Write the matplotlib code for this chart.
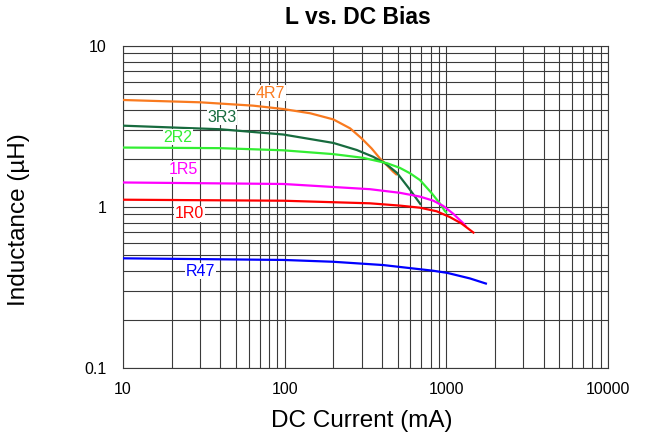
import matplotlib
matplotlib.use("Agg")
import matplotlib.pyplot as plt
from matplotlib.ticker import FixedLocator, LogLocator, NullFormatter

plt.rcParams['font.family'] = ['Liberation Sans', 'DejaVu Sans']

# Data (DC current in mA, inductance in uH)
x_4r7 = [10, 30, 64, 98, 144, 200, 254, 299, 345, 389, 428, 468, 495]
l_4r7 = [4.62, 4.47, 4.26, 4.06, 3.82, 3.50, 3.08, 2.67, 2.31, 2.00, 1.82, 1.66, 1.58]

x_3r3 = [10, 40, 98, 200, 279, 353, 418, 495, 596, 697]
l_3r3 = [3.20, 3.04, 2.82, 2.50, 2.26, 2.05, 1.87, 1.63, 1.28, 1.03]

x_2r2 = [10, 40, 98, 200, 306, 430, 516, 596, 687, 811, 914, 982, 1010]
l_2r2 = [2.34, 2.32, 2.25, 2.13, 2.02, 1.87, 1.75, 1.62, 1.47, 1.22, 1.05, 0.94, 0.92]

x_1r5 = [10, 98, 337, 516, 687, 830, 957, 1100, 1260, 1325]
l_1r5 = [1.42, 1.39, 1.29, 1.225, 1.16, 1.095, 1.015, 0.91, 0.80, 0.755]

x_1r0 = [10, 98, 337, 516, 687, 873, 1054, 1240, 1490]
l_1r0 = [1.11, 1.094, 1.054, 1.02, 0.99, 0.94, 0.865, 0.79, 0.687]

x_r47 = [10, 98, 199, 406, 827, 1010, 1400, 1783]
l_r47 = [0.48, 0.469, 0.457, 0.436, 0.402, 0.39, 0.36, 0.333]

series = [
    ("4R7", x_4r7, l_4r7, "#F97A1F", (82, 5.1)),
    ("3R3", x_3r3, l_3r3, "#176B3E", (41, 3.62)),
    ("2R2", x_2r2, l_2r2, "#33EE33", (21.9, 2.72)),
    ("1R5", x_1r5, l_1r5, "#FF00FF", (23.5, 1.72)),
    ("1R0", x_1r0, l_1r0, "#FF0000", (25.9, 0.905)),
    ("R47", x_r47, l_r47, "#0000FF", (30, 0.40)),
]

x_ticks = [10, 100, 1000, 10000]
x_ticklabels = ["10", "100", "1000", "10000"]
y_ticks = [0.1, 1, 10]
y_ticklabels = ["0.1", "1", "10"]

fig = plt.figure(figsize=(6.45, 4.34), dpi=100)
ax = fig.add_axes([123/645, 1-368/434, (608-123)/645, (368-46)/434])
ax.set_xscale("log")
ax.set_yscale("log")
ax.set_xlim(10, 10000)
ax.set_ylim(0.1, 10)

grid_color = "#3a3a3a"
ax.xaxis.set_major_locator(FixedLocator(x_ticks))
ax.yaxis.set_major_locator(FixedLocator(y_ticks))
ax.xaxis.set_minor_locator(LogLocator(base=10, subs=range(2, 10)))
ax.yaxis.set_minor_locator(LogLocator(base=10, subs=range(2, 10)))
ax.xaxis.set_minor_formatter(NullFormatter())
ax.yaxis.set_minor_formatter(NullFormatter())
ax.set_xticklabels(x_ticklabels)
ax.set_yticklabels(y_ticklabels)
ax.grid(True, which="both", color=grid_color, linewidth=0.8)
ax.set_axisbelow(True)
ax.tick_params(which="both", length=0)
ax.tick_params(axis="x", pad=10, labelsize=11.5)
ax.tick_params(axis="y", pad=12, labelsize=11.5)
for sp in ax.spines.values():
    sp.set_color(grid_color)
    sp.set_linewidth(0.8)

for name, xs, ls, col, (tx, ty) in series:
    ax.plot(xs, ls, color=col, linewidth=1.6, solid_capstyle="butt",
            solid_joinstyle="round", zorder=3)
    ax.text(tx, ty, name, color=col, fontsize=11.5, ha="center", va="center", zorder=4,
            bbox=dict(facecolor="white", edgecolor="none", pad=0.6))

ax.set_xlabel("DC Current (mA)", fontsize=17.5)
ax.xaxis.set_label_coords((362-123)/485, -(410-368)/322)
ax.set_ylabel("Inductance (µH)", fontsize=17.5)
ax.yaxis.set_label_coords((30-123)/485, (368-220)/322)
fig.text(358/645, 1-18/434, "L vs. DC Bias", fontsize=16.5, fontweight="bold",
         ha="center", va="center")

fig.savefig("out.png", dpi=100)
